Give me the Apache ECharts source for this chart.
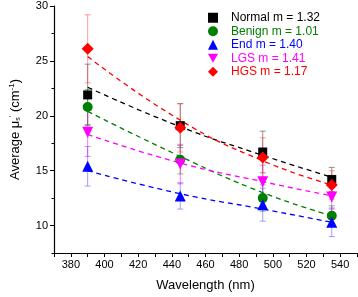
<!DOCTYPE html>
<html><head><meta charset="utf-8">
<script src="https://cdn.jsdelivr.net/npm/echarts@6/dist/echarts.min.js"></script>
<style>html,body{margin:0;padding:0;background:#fff}#c{width:358px;height:297px}</style>
</head><body><div id="c"></div>
<script>
const wavelengths = [390, 445, 494, 535];
const names = ['Normal m = 1.32','Benign m = 1.01','End m = 1.40','LGS m = 1.41','HGS m = 1.17'];
const normalVals = [21.9, 19.1, 16.7, 14.2];
const benignVals = [20.8, 16.0, 12.5, 10.9];
const endVals    = [15.4, 12.7, 11.9, 10.3];
const lgsVals    = [18.5, 15.6, 14.0, 12.6];
const hgsVals    = [26.1, 18.9, 16.2, 13.7];
const normalErr = [2.8, 2.0, 1.9, 1.1];
const benignErr = [1.6, 1.3, 1.2, 0.9];
const endErr    = [1.8, 1.2, 1.5, 1.3];
const lgsErr    = [2.2, 1.8, 1.5, 1.1];
const hgsErr    = [3.1, 2.2, 1.8, 1.3];
const normalFit = [22.6, 19.0, 16.4, 14.4];
const benignFit = [20.4, 16.3, 13.0, 10.9];
const endFit    = [15.0, 12.9, 11.5, 10.3];
const lgsFit    = [18.3, 15.7, 14.0, 12.7];
const hgsFit    = [25.4, 19.6, 15.9, 13.7];
const xTicks = [380,400,420,440,460,480,500,520,540];
const yTicks = [10,15,20,25,30];
const yMinor = [7.5,12.5,17.5,22.5,27.5];

const groups = [
  {name:names[0], vals:normalVals, err:normalErr, fit:normalFit, color:'#000000', errColor:'rgba(110,110,110,0.75)', symbol:'rect', size:9},
  {name:names[1], vals:benignVals, err:benignErr, fit:benignFit, color:'#007f00', errColor:'rgba(0,128,0,0.5)', symbol:'circle', size:10},
  {name:names[2], vals:endVals, err:endErr, fit:endFit, color:'#0000ff', errColor:'rgba(80,80,255,0.55)', symbol:'triangle', size:11},
  {name:names[3], vals:lgsVals, err:lgsErr, fit:lgsFit, color:'#ff00ff', errColor:'rgba(255,0,255,0.55)', symbol:'path://M0,0 L10,0 L5,9 Z', size:11},
  {name:names[4], vals:hgsVals, err:hgsErr, fit:hgsFit, color:'#ff0000', errColor:'rgba(255,60,60,0.5)', symbol:'diamond', size:12}
];

const series = [];
groups.forEach(g => {
  series.push({
    type:'custom', name:g.name+'_err', z:1, silent:true,
    data: wavelengths.map((x,i)=>[x, g.vals[i]-g.err[i], g.vals[i]+g.err[i]]),
    renderItem:(params, api) => {
      const lo = api.coord([api.value(0), api.value(1)]);
      const hi = api.coord([api.value(0), api.value(2)]);
      const w = 3;
      const st = {stroke:g.errColor, lineWidth:1};
      return {type:'group', children:[
        {type:'line', shape:{x1:lo[0],y1:lo[1],x2:hi[0],y2:hi[1]}, style:st},
        {type:'line', shape:{x1:lo[0]-w,y1:lo[1],x2:lo[0]+w,y2:lo[1]}, style:st},
        {type:'line', shape:{x1:hi[0]-w,y1:hi[1],x2:hi[0]+w,y2:hi[1]}, style:st}
      ]};
    }
  });
});
groups.forEach(g => {
  series.push({
    type:'line', name:g.name+'_fit', z:2, smooth:true, symbol:'none', silent:true,
    data: wavelengths.map((x,i)=>[x, g.fit[i]]),
    lineStyle:{color:g.color, width:1.3, type:[5,4]}
  });
});
groups.forEach(g => {
  series.push({
    type:'scatter', name:g.name, z:3, symbol:g.symbol, symbolSize:g.size,
    data: wavelengths.map((x,i)=>[x, g.vals[i]]),
    itemStyle:{color:g.color, opacity:1}
  });
});

const font = 'Liberation Sans, Arial, sans-serif';
const chart = echarts.init(document.getElementById('c'));
chart.setOption({
  animation:false,
  textStyle:{fontFamily:font},
  grid:{left:50, right:1, top:6, bottom:40},
  legend:{
    orient:'vertical', left:208, top:11, padding:0, itemWidth:10, itemHeight:10, itemGap:0,
    textStyle:{fontFamily:font, fontSize:12, lineHeight:13.5, padding:[0,0,0,8]},
    data: groups.map(g=>({name:g.name, textStyle:{color:g.color}}))
  },
  xAxis:{
    type:'value', min:370, max:550, interval:10,
    name:'Wavelength (nm)', nameLocation:'middle', nameGap:26,
    nameTextStyle:{fontSize:13, color:'#000', fontFamily:font},
    axisLine:{lineStyle:{color:'#000', width:1.2}},
    axisTick:{show:true, length:4, inside:false, lineStyle:{color:'#000'}},
    axisLabel:{customValues:xTicks, fontSize:11, color:'#000', margin:6, fontFamily:font},
    splitLine:{show:false}
  },
  yAxis:[{
    type:'value', min:7.5, max:30, interval:2.5,
    name:'Average \u03bc{sub|s}{sup|\'} (cm{sup|-1})', nameLocation:'middle', nameGap:32, nameRotate:90,
    nameTextStyle:{fontSize:13, color:'#000', fontFamily:font,
      rich:{sub:{fontSize:7, verticalAlign:'bottom', padding:[6,0,0,0], color:'#000'},
            sup:{fontSize:8, verticalAlign:'top', padding:[0,0,6,0], color:'#000'}}},
    axisLine:{show:true, lineStyle:{color:'#000', width:1.2}},
    axisTick:{show:true, customValues:yTicks, length:4, lineStyle:{color:'#000'}},
    axisLabel:{customValues:yTicks, fontSize:11, color:'#000', margin:6, fontFamily:font},
    splitLine:{show:false}
  },{
    type:'value', min:7.5, max:30, interval:2.5, position:'left',
    axisLine:{show:false},
    axisTick:{show:true, customValues:yMinor, length:2.5, lineStyle:{color:'#000'}},
    axisLabel:{show:false}, splitLine:{show:false}
  }],
  series: series
});
</script></body></html>
